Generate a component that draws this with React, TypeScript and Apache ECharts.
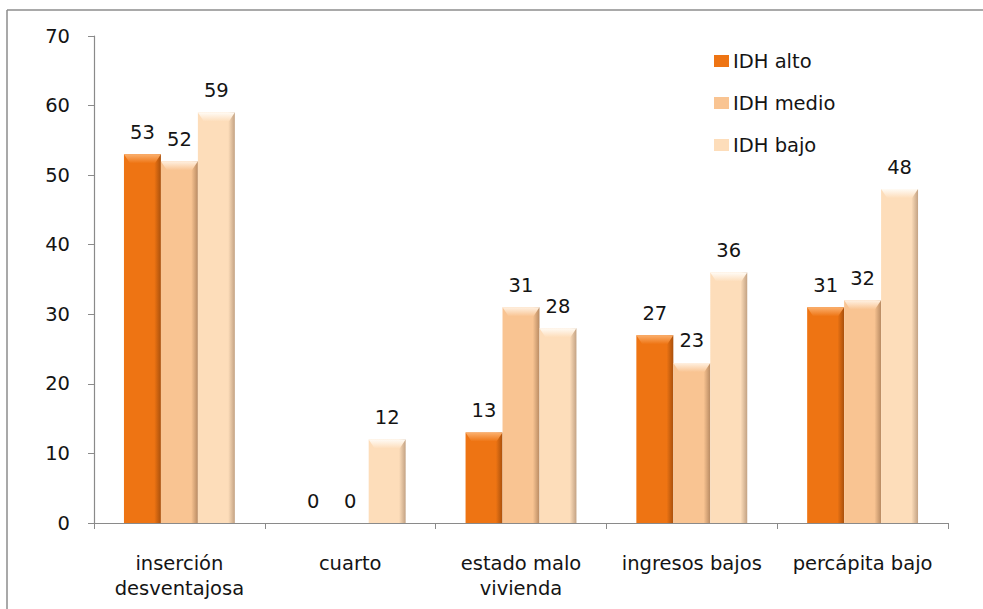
import React, { useEffect, useRef } from "react";
import * as echarts from "echarts";

const categories = [
  "inserción\ndesventajosa",
  "cuarto",
  "estado malo\nvivienda",
  "ingresos bajos",
  "percápita bajo",
];
const seriesNames = ["IDH alto", "IDH medio", "IDH bajo"];
const idhAlto = [53, 0, 13, 27, 31];
const idhMedio = [52, 0, 31, 23, 32];
const idhBajo = [59, 12, 28, 36, 48];
const yTicks = { min: 0, max: 70, interval: 10 };

// face colour, bevel highlight, right-edge shade
const palettes = [
  { face: "#EE7413", light: "#FBB06E", edge: "#A9500C" },
  { face: "#F9C492", light: "#FFF1E2", edge: "#B88A62" },
  { face: "#FDDDBA", light: "#FFFBF5", edge: "#C3A283" },
];

const FONT = "'DejaVu Sans', 'Open Sans', sans-serif";
const FONT_SIZE = 19.5;
const TEXT_COLOR = "#141414";
const BAR_FRACTION = 0.2164;

function makeRenderItem(seriesIdx: number) {
  const pal = palettes[seriesIdx];
  return (params: any, api: any) => {
    const cat = api.value(0);
    const val = api.value(1);
    const base = api.coord([cat, 0]);
    const top = api.coord([cat, val]);
    const bandW = api.size([1, 0])[0];
    const barW = bandW * BAR_FRACTION;
    const x = base[0] - (barW * 3) / 2 + seriesIdx * barW;
    const h = base[1] - top[1];
    const children: any[] = [];
    if (h > 0) {
      children.push({
        type: "rect",
        shape: { x, y: top[1], width: barW, height: h },
        style: {
          fill: new echarts.graphic.LinearGradient(0, 0, 1, 0, [
            { offset: 0, color: pal.face },
            { offset: 0.82, color: pal.face },
            { offset: 1, color: pal.edge },
          ]),
        },
      });
      const bh = Math.min(9, h);
      const inset = 6;
      children.push({
        type: "polygon",
        shape: {
          points: [
            [x, top[1]],
            [x + barW, top[1]],
            [x + barW - inset, top[1] + bh],
            [x + inset, top[1] + bh],
          ],
        },
        style: {
          fill: new echarts.graphic.LinearGradient(0, 0, 0, 1, [
            { offset: 0, color: pal.light },
            { offset: 1, color: pal.face },
          ]),
        },
      });
    }
    children.push({
      type: "text",
      z2: 10,
      style: {
        text: String(val),
        x: x + barW / 2,
        y: top[1] - 12,
        align: "center",
        verticalAlign: "bottom",
        fontSize: FONT_SIZE,
        fontFamily: FONT,
        fill: TEXT_COLOR,
      },
    });
    return { type: "group", children };
  };
}

export default function App() {
  const ref = useRef<HTMLDivElement>(null);

  useEffect(() => {
    document.body.style.margin = "0";
    if (!ref.current) return;
    const chart = echarts.init(ref.current, undefined, { renderer: "svg" });
    const values = [idhAlto, idhMedio, idhBajo];

    chart.setOption({
      animation: false,
      backgroundColor: "#ffffff",
      grid: { left: 94, right: 35, top: 36, bottom: 86 },
      legend: {
        orient: "vertical",
        left: 714,
        top: 51,
        icon: "rect",
        itemWidth: 15,
        itemHeight: 12,
        itemGap: 22,
        padding: 0,
        data: seriesNames,
        textStyle: {
          fontSize: FONT_SIZE,
          lineHeight: 20,
          fontFamily: FONT,
          color: TEXT_COLOR,
          padding: [0, 0, 0, -1],
        },
      },
      xAxis: {
        type: "category",
        data: categories,
        boundaryGap: true,
        axisLine: { lineStyle: { color: "#8a8a8a", width: 1.2 } },
        axisTick: { show: true, length: 6, lineStyle: { color: "#8a8a8a" } },
        axisLabel: {
          margin: 28,
          fontSize: FONT_SIZE,
          lineHeight: 25,
          fontFamily: FONT,
          color: TEXT_COLOR,
          interval: 0,
        },
      },
      yAxis: {
        type: "value",
        min: yTicks.min,
        max: yTicks.max,
        interval: yTicks.interval,
        splitLine: { show: false },
        axisLine: { show: true, lineStyle: { color: "#8a8a8a", width: 1.2 } },
        axisTick: { show: true, length: 6, lineStyle: { color: "#8a8a8a" } },
        axisLabel: {
          margin: 24,
          fontSize: FONT_SIZE,
          fontFamily: FONT,
          color: TEXT_COLOR,
        },
      },
      series: seriesNames.map((name, i) => ({
        type: "custom",
        name,
        itemStyle: { color: palettes[i].face },
        encode: { x: 0, y: 1 },
        data: values[i].map((v, c) => [c, v]),
        renderItem: makeRenderItem(i),
      })),
      graphic: [
        {
          type: "line",
          shape: { x1: 7, y1: 10, x2: 983, y2: 10 },
          style: { stroke: "#8c8c8c", lineWidth: 1.5 },
        },
        {
          type: "line",
          shape: { x1: 7, y1: 10, x2: 7, y2: 609 },
          style: { stroke: "#8c8c8c", lineWidth: 1.5 },
        },
      ],
    });

    return () => chart.dispose();
  }, []);

  return <div ref={ref} style={{ width: 983, height: 609 }} />;
}
